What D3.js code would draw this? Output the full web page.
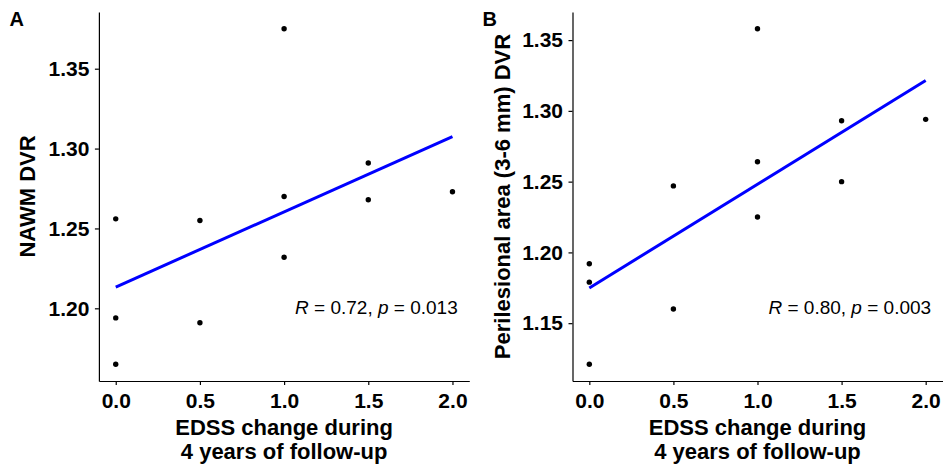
<!DOCTYPE html>
<html>
<head>
<meta charset="utf-8">
<script src="https://cdn.jsdelivr.net/npm/d3@7"></script>
<style>
  html, body { margin: 0; padding: 0; background: #fff; }
  svg { display: block; font-family: "Liberation Sans", Arial, sans-serif; }
</style>
</head>
<body>
<svg id="chart" width="943" height="466"></svg>
<script>
// EDSS change (x) and DVR values (y)
const edssA = [0, 0, 0, 0.5, 0.5, 1, 1, 1, 1.5, 1.5, 2];
const nawmDvr = [1.256, 1.194, 1.165, 1.255, 1.191, 1.375, 1.270, 1.232, 1.291, 1.268, 1.273];

const edssB = [0, 0, 0, 0.5, 0.5, 1, 1, 1, 1.5, 1.5, 2];
const perilesionalDvr = [1.192, 1.179, 1.121, 1.247, 1.160, 1.358, 1.264, 1.225, 1.293, 1.250, 1.294];

const xTicks = [0, 0.5, 1, 1.5, 2];
const yTicksA = [1.20, 1.25, 1.30, 1.35];
const yTicksB = [1.15, 1.20, 1.25, 1.30, 1.35];

const statsA = { r: "0.72", p: "0.013" };
const statsB = { r: "0.80", p: "0.003" };

const svg = d3.select("#chart");

// ggplot style 5% expansion
function expand(ext, f) {
  const pad = (ext[1] - ext[0]) * f;
  return [ext[0] - pad, ext[1] + pad];
}

function fit(xs, ys) {
  const mx = d3.mean(xs), my = d3.mean(ys);
  let sxy = 0, sxx = 0;
  xs.forEach((x, i) => { sxy += (x - mx) * (ys[i] - my); sxx += (x - mx) * (x - mx); });
  const b = sxy / sxx;
  return { a: my - b * mx, b: b };
}

function drawPanel(p) {
  const { left, right, top, bottom } = p;
  const x = d3.scaleLinear().domain(expand(d3.extent(p.xs), 0.05)).range([left, right]);
  const y = d3.scaleLinear().domain(expand(d3.extent(p.ys), 0.05)).range([bottom, top]);

  const g = svg.append("g");

  // regression line
  const lm = fit(p.xs, p.ys);
  const xr = d3.extent(p.xs);
  g.append("line")
    .attr("x1", x(xr[0])).attr("y1", y(lm.a + lm.b * xr[0]))
    .attr("x2", x(xr[1])).attr("y2", y(lm.a + lm.b * xr[1]))
    .attr("stroke", "#0000ff")
    .attr("stroke-width", 3);

  g.selectAll(".pt")
    .data(p.xs.map((d, i) => [d, p.ys[i]]))
    .enter()
    .append("circle")
    .attr("cx", d => x(d[0]))
    .attr("cy", d => y(d[1]))
    .attr("r", 2.7)
    .attr("fill", "#000");

  const xAxis = g.append("g")
    .attr("transform", `translate(0,${bottom})`)
    .call(d3.axisBottom(x).tickValues(xTicks).tickFormat(d3.format(".1f")).tickSize(4).tickSizeOuter(0).tickPadding(8));
  const yAxis = g.append("g")
    .attr("transform", `translate(${left},0)`)
    .call(d3.axisLeft(y).tickValues(p.yTicks).tickFormat(d3.format(".2f")).tickSize(4).tickSizeOuter(0).tickPadding(5.5));

  [xAxis, yAxis].forEach(a => {
    a.selectAll("path, line").attr("stroke", "#000").attr("stroke-width", 1.2);
    a.selectAll("text")
      .attr("fill", "#000")
      .style("font-size", "21px")
      .style("font-weight", "bold")
      .style("font-family", "'Liberation Sans', Arial, sans-serif");
  });

  // x title, two lines
  const cx = (left + right) / 2;
  g.append("text")
    .attr("x", cx).attr("y", 434.5)
    .attr("text-anchor", "middle")
    .style("font-size", "22px").style("font-weight", "bold")
    .text("EDSS change during");
  g.append("text")
    .attr("x", cx).attr("y", 458.5)
    .attr("text-anchor", "middle")
    .style("font-size", "22px").style("font-weight", "bold")
    .text("4 years of follow-up");

  // y title
  g.append("text")
    .attr("transform", `translate(${p.yTitleX},${(top + bottom) / 2}) rotate(-90)`)
    .attr("text-anchor", "middle")
    .style("font-size", "22px").style("font-weight", "bold")
    .text(p.yTitle);

  // correlation label
  const lab = g.append("text")
    .attr("x", x(1.065))
    .attr("y", top + (bottom - top) * 0.818)
    .style("font-size", "19px")
    .attr("fill", "#000");
  lab.append("tspan").style("font-style", "italic").text("R");
  lab.append("tspan").text(` = ${p.stats.r}, `);
  lab.append("tspan").style("font-style", "italic").text("p");
  lab.append("tspan").text(` = ${p.stats.p}`);

  // panel tag
  svg.append("text")
    .attr("x", p.tagX).attr("y", 25.5)
    .style("font-size", "20px").style("font-weight", "bold")
    .text(p.tag);
}

drawPanel({
  xs: edssA, ys: nawmDvr, yTicks: yTicksA, stats: statsA,
  left: 98.9, right: 469.3, top: 12, bottom: 381,
  yTitle: "NAWM DVR", yTitleX: 35, tag: "A", tagX: 9.5
});

drawPanel({
  xs: edssB, ys: perilesionalDvr, yTicks: yTicksB, stats: statsB,
  left: 572.5, right: 942.5, top: 12, bottom: 381,
  yTitle: "Perilesional area (3-6 mm) DVR", yTitleX: 510, tag: "B", tagX: 482.5
});
</script>
</body>
</html>
